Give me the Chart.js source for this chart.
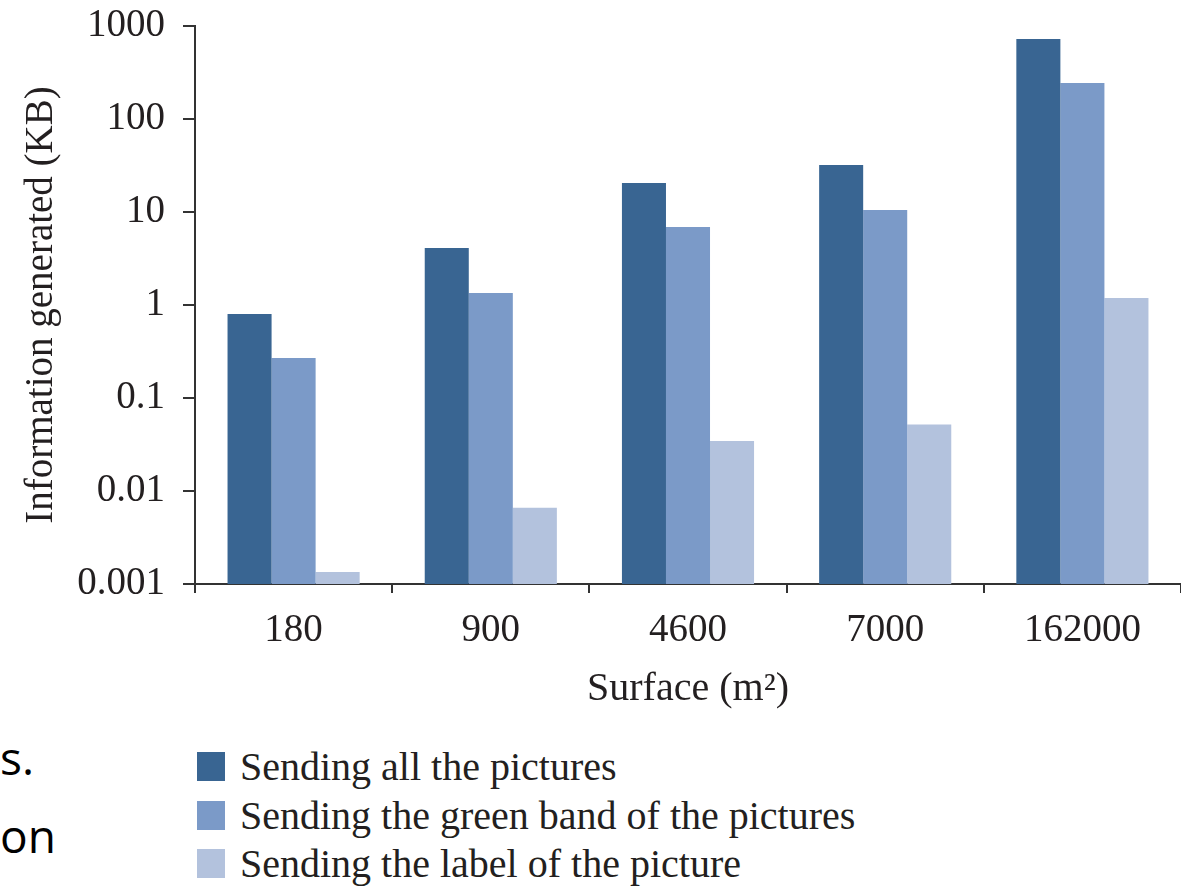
<!DOCTYPE html>
<html>
<head>
<meta charset="utf-8">
<script src="https://cdn.jsdelivr.net/npm/chart.js@4/dist/chart.umd.min.js"></script>
<style>
  html, body { margin: 0; padding: 0; background: #fff; width: 1181px; height: 886px; overflow: hidden; }
  #wrap { position: absolute; left: 0; top: 0; width: 1181px; height: 720px; }
  #legend { position: absolute; left: 197px; top: 752px; font-family: "Liberation Serif", serif; font-size: 40px; color: #231f20; }
  #legend div { height: 48.5px; display: flex; align-items: flex-start; white-space: nowrap; }
  #legend span.box { display: inline-block; width: 28px; height: 29px; margin-right: 15px; }
  #legend span.lbl { line-height: 29px; }
  .slide { position: absolute; left: 0; font-family: "Open Sans", sans-serif; font-size: 46px; line-height: 1; color: #000; }
</style>
</head>
<body>
<div id="wrap"><canvas id="myChart" width="1181" height="720"></canvas></div>
<div id="legend"></div>
<div class="slide" style="top:734px">s.</div>
<div class="slide" style="top:812px">on</div>
<script>
// Data (log scale, KB)
const surfaces = ['180', '900', '4600', '7000', '162000'];
const allPictures = [0.80, 4.1, 20.5, 32, 724];
const greenBand = [0.27, 1.35, 6.9, 10.5, 244];
const labelOnly = [0.00135, 0.0066, 0.0344, 0.052, 1.19];
const seriesNames = [
    'Sending all the pictures',
    'Sending the green band of the pictures',
    'Sending the label of the picture'
];
const seriesColors = ['#396592', '#7b9ac8', '#b3c2dd'];

const textColor = '#231f20';
const axisColor = '#333333';
const serif = '"Liberation Serif", "Times New Roman", serif';
const fontSize = 39;

const ctx = document.getElementById('myChart').getContext('2d');
const myChart = new Chart(ctx, {
    type: 'bar',
    data: {
        labels: surfaces,
        datasets: [allPictures, greenBand, labelOnly].map((vals, i) => ({
            label: seriesNames[i],
            data: vals,
            backgroundColor: seriesColors[i],
            borderWidth: 0,
            categoryPercentage: 0.67,
            barPercentage: 1.0
        }))
    },
    options: {
        responsive: false,
        animation: false,
        layout: { padding: { top: 26, right: 0, bottom: 0, left: 0 } },
        plugins: {
            legend: { display: false },
            tooltip: { enabled: false }
        },
        scales: {
            x: {
                grid: { drawOnChartArea: false, drawTicks: true, tickLength: 9, color: axisColor, lineWidth: 2, offset: true },
                border: { color: axisColor, width: 2 },
                ticks: { color: textColor, font: { family: serif, size: fontSize }, padding: 14, maxRotation: 0 },
                title: { display: true, text: 'Surface (m²)', color: textColor, font: { family: serif, size: 40 }, padding: { top: 0, bottom: 7 } },
                afterFit: scale => { scale.height = 136; scale.paddingLeft = 0; scale.paddingRight = 0; }
            },
            y: {
                type: 'logarithmic',
                min: 0.001,
                max: 1000,
                grid: { drawOnChartArea: false, drawTicks: true, tickLength: 12, color: axisColor, lineWidth: 2 },
                border: { color: axisColor, width: 2 },
                ticks: {
                    color: textColor,
                    font: { family: serif, size: fontSize },
                    padding: 18,
                    callback: value => String(value)
                },
                afterBuildTicks: axis => {
                    // keep only the decades
                    axis.ticks = axis.ticks.filter(t => {
                        const l = Math.log10(t.value);
                        return Math.abs(l - Math.round(l)) < 1e-9;
                    });
                },
                title: { display: true, text: 'Information generated (KB)', color: textColor, font: { family: serif, size: fontSize }, padding: { top: 18, bottom: 0 } },
                afterFit: scale => { scale.width = 195; scale.paddingTop = 0; scale.paddingBottom = 0; }
            }
        }
    }
});

// Legend below the chart, built from the datasets
const legend = document.getElementById('legend');
myChart.data.datasets.forEach(ds => {
    const row = document.createElement('div');
    row.innerHTML = '<span class="box" style="background:' + ds.backgroundColor + '"></span><span class="lbl">' + ds.label + '</span>';
    legend.appendChild(row);
});
</script>
</body>
</html>
